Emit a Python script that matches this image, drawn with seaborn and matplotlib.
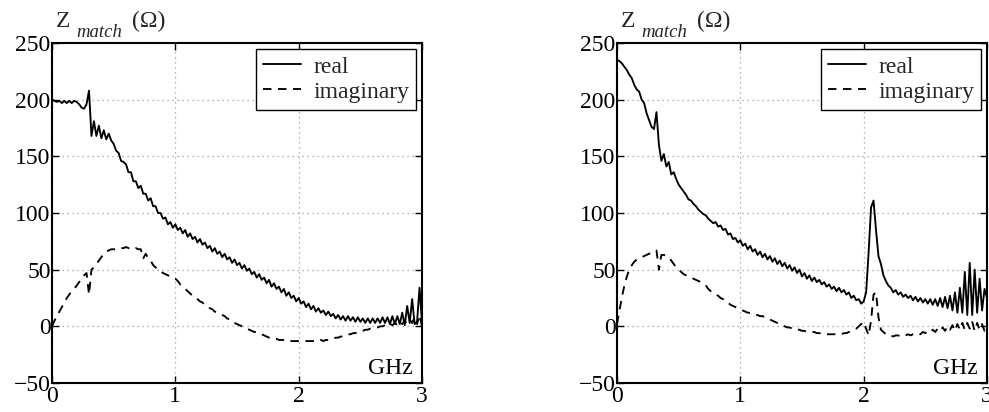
import numpy as np
import pandas as pd
import matplotlib
matplotlib.use("Agg")
import matplotlib.pyplot as plt
import seaborn as sns

# frequency grid (GHz), 0.02 GHz step
freq = np.round(np.arange(0, 151) * 0.02, 2)

left_real = [
    200, 199, 198, 199, 197, 199, 197, 199, 197, 199,
    198, 196, 193, 192, 196, 208, 168, 181, 168, 177,
    166, 173, 165, 170, 164, 161, 155, 153, 146, 145,
    143, 136, 136, 128, 128, 122, 124, 117, 117, 111,
    113, 106, 106, 100, 100, 95, 96, 90, 92, 87,
    90, 85, 87, 82, 85, 79, 82, 77, 79, 74,
    77, 72, 74, 69, 71, 66, 69, 64, 66, 61,
    64, 59, 61, 56, 59, 54, 56, 51, 54, 49,
    51, 46, 48, 43, 46, 41, 43, 38, 41, 35,
    38, 33, 35, 30, 33, 27, 30, 25, 27, 22,
    25, 20, 22, 17, 20, 15, 18, 13, 16, 12,
    14, 10, 13, 9, 11, 7, 10, 6, 9, 5,
    9, 5, 8, 4, 8, 4, 7, 3, 7, 3,
    7, 3, 7, 3, 8, 3, 8, 2, 9, 2,
    9, 2, 12, 1, 18, 3, 24, 2, 4, 34,
    3,
]
left_imag = [
    0, 5, 9, 13, 17, 21, 25, 28, 31, 33,
    36, 39, 42, 45, 47, 28, 50, 52, 55, 58,
    61, 64, 66, 67, 68, 68, 68, 69, 69, 69,
    70, 69, 69, 68, 69, 68, 68, 60, 64, 60,
    58, 54, 52, 50, 49, 47, 46, 45, 44, 43,
    42, 40, 37, 35, 33, 31, 29, 27, 26, 24,
    22, 21, 19, 18, 16, 15, 13, 12, 11, 10,
    9, 7, 6, 4, 3, 2, 1, 0, -1, -2,
    -3, -4, -5, -5, -6, -7, -8, -9, -10, -10,
    -11, -11, -12, -12, -12, -12, -13, -13, -13, -13,
    -13, -13, -13, -13, -13, -13, -13, -13, -13, -12,
    -13, -12, -12, -11, -11, -10, -10, -9, -9, -8,
    -7, -7, -6, -6, -5, -4, -4, -3, -3, -2,
    -2, -1, -1, 0, 0, 1, 0, 2, 1, 3,
    1, 4, 2, 5, 2, 6, 3, 8, 2, 10,
    0,
]
right_real = [
    235, 234, 232, 229, 226, 222, 219, 213, 209, 207,
    200, 197, 188, 182, 176, 174, 189, 160, 146, 152,
    141, 145, 134, 136, 130, 125, 122, 119, 116, 112,
    111, 108, 106, 103, 101, 99, 98, 95, 93, 91,
    92, 88, 89, 85, 86, 81, 82, 77, 78, 74,
    76, 71, 73, 68, 71, 66, 68, 63, 66, 61,
    64, 59, 62, 57, 60, 55, 58, 53, 56, 51,
    54, 49, 52, 47, 50, 44, 47, 42, 45, 40,
    43, 39, 41, 37, 39, 35, 37, 33, 35, 31,
    34, 30, 32, 28, 30, 25, 27, 23, 24, 20,
    22, 30, 65, 105, 111, 85, 62, 55, 45, 40,
    36, 34, 30, 32, 28, 30, 26, 28, 25, 27,
    23, 26, 22, 25, 21, 24, 20, 24, 19, 24,
    18, 25, 17, 26, 16, 27, 14, 30, 12, 34,
    12, 48, 10, 56, 10, 50, 12, 42, 14, 33,
    25,
]
right_imag = [
    2, 14, 26, 36, 44, 50, 54, 57, 59, 60,
    61, 62, 63, 64, 65, 66, 67, 50, 63, 63,
    62, 61, 58, 55, 52, 50, 48, 46, 45, 44,
    43, 42, 41, 40, 39, 38, 36, 33, 31, 29,
    28, 27, 25, 24, 22, 21, 19, 18, 17, 16,
    15, 14, 13, 12, 12, 11, 10, 10, 9, 9,
    8, 7, 6, 5, 4, 3, 2, 1, 0, -1,
    -1, -2, -2, -3, -3, -4, -4, -5, -5, -5,
    -5, -6, -6, -6, -7, -7, -7, -7, -7, -7,
    -7, -7, -6, -6, -5, -4, -3, -2, 0, 2,
    4, -2, -8, 5, 28, 30, 8, -3, -5, -7,
    -8, -8, -9, -8, -8, -9, -8, -8, -7, -8,
    -7, -7, -6, -7, -5, -6, -4, -5, -3, -5,
    -2, -4, -1, -4, 0, -3, 1, -4, 2, -3,
    3, -3, 3, -2, 4, -4, 3, -3, 2, -4,
    0,
]

xticks = [0, 1, 2, 3]
yticks = [-50, 0, 50, 100, 150, 200, 250]
series_names = ["real", "imaginary"]

sns.set_theme(style="white")
plt.rcParams["font.family"] = ["Liberation Serif", "DejaVu Serif"]
plt.rcParams["axes.unicode_minus"] = True

W, H = 989, 412
fig = plt.figure(figsize=(W / 100, H / 100), dpi=100)
ax_l = fig.add_axes([52 / W, (H - 383) / H, 370 / W, 340 / H])
ax_r = fig.add_axes([617 / W, (H - 383) / H, 370 / W, 340 / H])

FS = 17
for ax, re, im in [(ax_l, left_real, left_imag), (ax_r, right_real, right_imag)]:
    df = pd.DataFrame({"f": freq, "real": re, "imaginary": im})
    sns.lineplot(data=df, x="f", y="real", ax=ax, color="black", lw=1.35,
                 label=series_names[0], errorbar=None, sort=False)
    sns.lineplot(data=df, x="f", y="imaginary", ax=ax, color="black", lw=1.35,
                 linestyle=(0, (4.5, 3.5)), label=series_names[1],
                 errorbar=None, sort=False)
    ax.set_xlim(0, 3)
    ax.set_ylim(-50, 250)
    ax.set_xticks(xticks)
    ax.set_yticks(yticks)
    ax.set_xlabel("")
    ax.set_ylabel("")
    ax.grid(True, color="#9a9a9a", linestyle=(0, (1, 3)), lw=0.9)
    ax.set_axisbelow(True)
    for s in ax.spines.values():
        s.set_color("black")
        s.set_linewidth(1.5)
        s.set_visible(True)
    ax.tick_params(axis="both", which="major", direction="in", length=5,
                   width=1.0, color="black", labelsize=FS, top=True, right=True,
                   bottom=True, left=True, labelcolor="black")
    ax.tick_params(axis="y", pad=1)
    ax.tick_params(axis="x", pad=2)
    leg = ax.legend(loc="upper right", fontsize=FS, frameon=True, fancybox=False,
                    borderaxespad=0.25, handlelength=1.6, handletextpad=0.5,
                    borderpad=0.3, labelspacing=0.15)
    leg.get_frame().set_edgecolor("black")
    leg.get_frame().set_linewidth(1.0)
    leg.get_frame().set_alpha(1)
    ax.text(0.976, 0.025, "GHz", transform=ax.transAxes, ha="right",
            va="baseline", fontsize=FS, color="black")
    # y-axis title above the plot
    x0 = ax.get_position().x0 * W
    fig.text((x0 + 4) / W, 1 - 27 / H, "Z", fontsize=FS, va="baseline", ha="left")
    fig.text((x0 + 24) / W, 1 - 37 / H, "match", fontsize=13.5, style="italic",
             va="baseline", ha="left")
    fig.text((x0 + 80) / W, 1 - 27 / H, "(Ω)", fontsize=FS, va="baseline", ha="left")

fig.savefig("out.png", dpi=100, facecolor="white")
